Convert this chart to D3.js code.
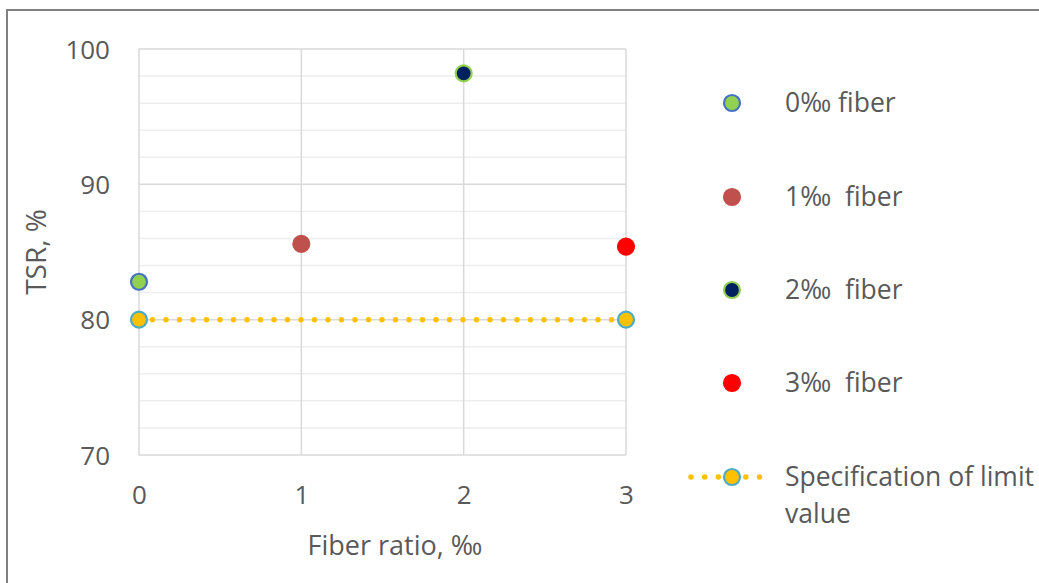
<!DOCTYPE html>
<html>
<head>
<meta charset="utf-8">
<script src="https://cdn.jsdelivr.net/npm/d3@7"></script>
<style>
  html, body { margin: 0; padding: 0; background: #fff; }
  svg { display: block; }
  text { font-family: "Open Sans", sans-serif; fill: #595959; white-space: pre; }
</style>
</head>
<body>
<svg id="chart" width="1039" height="583"></svg>
<script>
// Fiber ratio (‰) vs tensile strength ratio (TSR, %)
const seriesNames = ["0‰ fiber", "1‰  fiber", "2‰  fiber", "3‰  fiber"];
const fiberRatio = [0, 1, 2, 3];
const tsrValues = [82.8, 85.6, 98.2, 85.4];
const limitName = "Specification of limit value";
const limitX = [0, 3];
const limitY = [80, 80];
const xTicks = [0, 1, 2, 3];
const yTicks = [70, 80, 90, 100];

const markerFill = ["#92d050", "#c0504d", "#002060", "#ff0000"];
const markerStroke = ["#4472c4", "#c0504d", "#92d050", "#ff0000"];

const svg = d3.select("#chart");

// outer frame (top and left edges visible)
svg.append("path")
  .attr("d", "M7,1000 V10 H1100")
  .attr("fill", "none").attr("stroke", "#808080").attr("stroke-width", 2);

const x = d3.scaleLinear().domain([0, 3]).range([139, 626]);
const y = d3.scaleLinear().domain([70, 100]).range([455, 49]);

// minor horizontal gridlines
svg.append("g").selectAll("line")
  .data(d3.range(70, 100.01, 2).filter(v => v % 10 !== 0))
  .join("line")
  .attr("x1", x(0)).attr("x2", x(3))
  .attr("y1", d => y(d)).attr("y2", d => y(d))
  .attr("stroke", "#ededed").attr("stroke-width", 1.5);

// major horizontal gridlines
svg.append("g").selectAll("line")
  .data(yTicks)
  .join("line")
  .attr("x1", x(0)).attr("x2", x(3))
  .attr("y1", d => y(d)).attr("y2", d => y(d))
  .attr("stroke", "#d9d9d9").attr("stroke-width", 1.5);

// vertical gridlines
svg.append("g").selectAll("line")
  .data(xTicks)
  .join("line")
  .attr("x1", d => x(d)).attr("x2", d => x(d))
  .attr("y1", y(100)).attr("y2", y(70))
  .attr("stroke", "#d9d9d9").attr("stroke-width", 1.5);

// y-axis tick labels
const yAxis = d3.axisLeft(y).tickValues(yTicks).tickSize(0).tickPadding(0);
const gy = svg.append("g").attr("transform", "translate(110,0)").call(yAxis);
gy.select(".domain").remove();
gy.selectAll("text")
  .style("font-family", '"Open Sans", sans-serif')
  .style("font-size", "26px").attr("fill", "#595959").attr("dy", "0.35em");

// x-axis tick labels
const xAxis = d3.axisBottom(x).tickValues(xTicks).tickSize(0).tickPadding(0).tickFormat(d3.format("d"));
const gx = svg.append("g").attr("transform", "translate(0,495)").call(xAxis);
gx.select(".domain").remove();
gx.selectAll("text")
  .style("font-family", '"Open Sans", sans-serif')
  .style("font-size", "26px").attr("fill", "#595959").attr("dy", "0.35em");

// axis titles
svg.append("text")
  .attr("x", 395).attr("y", 546).attr("dy", "0.35em")
  .attr("text-anchor", "middle").style("font-size", "27px")
  .text("Fiber ratio, ‰");
svg.append("text")
  .attr("transform", "translate(36,252) rotate(-90)").attr("dy", "0.35em")
  .attr("text-anchor", "middle").style("font-size", "28px")
  .text("TSR, %");

// limit line (dotted) with end markers
const limitData = limitX.map((v, i) => [v, limitY[i]]);
svg.append("path")
  .datum(limitData)
  .attr("d", d3.line().x(d => x(d[0])).y(d => y(d[1])))
  .attr("fill", "none").attr("stroke", "#ffc000")
  .attr("stroke-width", 5.5).attr("stroke-linecap", "round")
  .attr("stroke-dasharray", "0 13.5");
svg.append("g").selectAll("circle")
  .data(limitData)
  .join("circle")
  .attr("cx", d => x(d[0])).attr("cy", d => y(d[1])).attr("r", 8)
  .attr("fill", "#ffc000").attr("stroke", "#4bacc6").attr("stroke-width", 2.2);

// fiber series points
svg.append("g").selectAll("circle")
  .data(fiberRatio.map((v, i) => ({ x: v, y: tsrValues[i], i })))
  .join("circle")
  .attr("cx", d => x(d.x)).attr("cy", d => y(d.y)).attr("r", 8)
  .attr("fill", d => markerFill[d.i]).attr("stroke", d => markerStroke[d.i])
  .attr("stroke-width", 2.2);

// legend
const legendRows = [103, 197, 290, 383];
const lg = svg.append("g");
seriesNames.forEach((name, i) => {
  lg.append("circle").attr("cx", 732).attr("cy", legendRows[i]).attr("r", 8)
    .attr("fill", markerFill[i]).attr("stroke", markerStroke[i]).attr("stroke-width", 2.2);
  lg.append("text").attr("x", 785).attr("y", legendRows[i]).attr("dy", "0.35em")
    .style("font-size", "26.5px").text(name);
});
const ly = 477;
lg.append("line").attr("x1", 691).attr("x2", 773).attr("y1", ly).attr("y2", ly)
  .attr("stroke", "#ffc000").attr("stroke-width", 5.5).attr("stroke-linecap", "round")
  .attr("stroke-dasharray", "0 13.7");
lg.append("circle").attr("cx", 732).attr("cy", ly).attr("r", 8)
  .attr("fill", "#ffc000").attr("stroke", "#4bacc6").attr("stroke-width", 2.2);
const limitWords = limitName.split(" ");
const lt = lg.append("text").attr("x", 785).attr("y", ly).attr("dy", "0.35em")
  .style("font-size", "26.5px");
lt.append("tspan").attr("x", 785).text(limitWords.slice(0, 3).join(" "));
lt.append("tspan").attr("x", 785).attr("dy", "1.4em").text(limitWords.slice(3).join(" "));
</script>
</body>
</html>
